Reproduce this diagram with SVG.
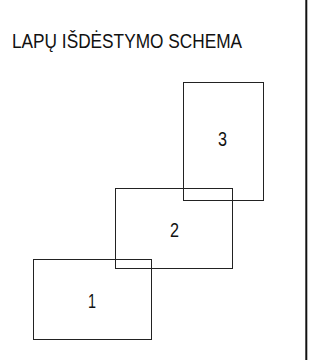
<svg xmlns="http://www.w3.org/2000/svg" width="334" height="360" viewBox="0 0 334 360">
<style>
.sheet{fill:none;stroke:#222;stroke-width:1}
.num{font-family:"Liberation Sans",Arial,sans-serif;font-size:20px;fill:#111;text-anchor:middle}
.title{font-family:"Liberation Sans",Arial,sans-serif;font-size:20px;fill:#111}
</style>
<rect width="334" height="360" fill="#fff"/>
<text class="title" x="12" y="48" textLength="230" lengthAdjust="spacingAndGlyphs">LAPŲ IŠDĖSTYMO SCHEMA</text>
<g id="connectors">
<line x1="306.3" y1="0" x2="306.3" y2="360" stroke="#111" stroke-width="2"/>
</g>
<g id="sheet3">
<rect class="sheet" x="183.5" y="82.5" width="80" height="118"/>
<text class="num" x="222.5" y="146" textLength="9" lengthAdjust="spacingAndGlyphs">3</text>
</g>
<g id="sheet2">
<rect class="sheet" x="115.5" y="188.5" width="117" height="80"/>
<text class="num" x="174.5" y="237" textLength="9" lengthAdjust="spacingAndGlyphs">2</text>
</g>
<g id="sheet1">
<rect class="sheet" x="33.5" y="259.5" width="118" height="80"/>
<text class="num" x="92" y="308" textLength="8" lengthAdjust="spacingAndGlyphs">1</text>
</g>
</svg>
